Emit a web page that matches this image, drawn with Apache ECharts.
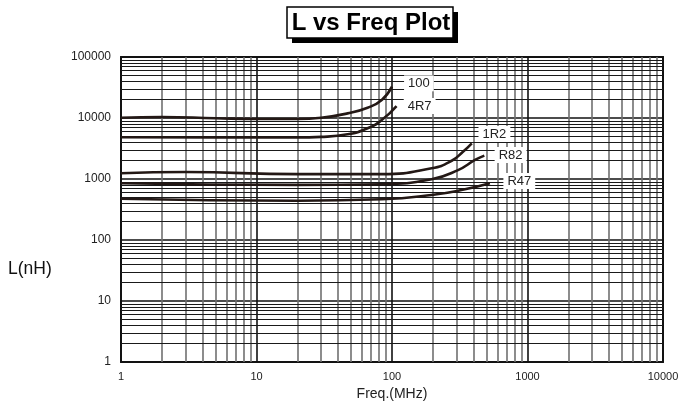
<!DOCTYPE html>
<html>
<head>
<meta charset="utf-8">
<script src="https://cdn.jsdelivr.net/npm/echarts@6/dist/echarts.min.js"></script>
<style>
html,body{margin:0;padding:0;background:#fff;}
#c{width:680px;height:401px;}
</style>
</head>
<body>
<div id="c"></div>
<script>
// ---- data ----
var xTicks = [1, 10, 100, 1000, 10000];
var yTicks = [1, 10, 100, 1000, 10000, 100000];

var f100 = [1, 2, 5, 10, 20, 30, 47, 66, 84, 100];
var L100 = [10100, 10400, 9900, 9630, 9630, 10100, 11900, 14750, 19700, 32600];

var f4R7 = [1, 5, 20, 30, 47, 66, 84, 108];
var L4R7 = [4830, 4800, 4800, 4900, 5400, 6780, 9270, 15700];

var f1R2 = [1, 3, 20, 84, 196, 276, 334, 388];
var L1R2 = [1240, 1300, 1200, 1200, 1500, 1990, 2800, 3850];

var fR82 = [1, 20, 84, 196, 307, 410, 480];
var LR82 = [850, 800, 820, 990, 1400, 2050, 2420];

var fR47 = [1, 20, 84, 196, 346, 528];
var LR47 = [475, 440, 465, 547, 678, 850];

var curveNames = ['100', '4R7', '1R2', 'R82', 'R47'];
var curveF = [f100, f4R7, f1R2, fR82, fR47];
var curveL = [L100, L4R7, L1R2, LR82, LR47];
// label anchors (data units)
var labelF = [158, 160, 570, 750, 870];
var labelL = [37000, 15700, 5470, 2480, 930];

// ---- build ----
function zip(a, b) { return a.map(function (v, i) { return [v, b[i]]; }); }

var minorX = [], minorY = [];
for (var d = 1; d < 10000; d *= 10) for (var k = 2; k <= 9; k++) minorX.push(d * k);
for (var d2 = 1; d2 < 100000; d2 *= 10) for (var k2 = 2; k2 <= 9; k2++) minorY.push(d2 * k2);

var gridLines = [];
minorX.forEach(function (v) {
  gridLines.push({ xAxis: v, lineStyle: { color: '#707070', width: 1.6, type: 'solid' } });
});
minorY.forEach(function (v) {
  gridLines.push({ yAxis: v, lineStyle: { color: '#1a1a1a', width: 1.1, type: 'solid' } });
});

var series = [{
  type: 'line',
  data: [],
  silent: true,
  markLine: {
    silent: true,
    symbol: ['none', 'none'],
    label: { show: false },
    animation: false,
    data: gridLines
  },
  z: 1
}];

var font = 'Liberation Sans, Arial, sans-serif';

curveNames.forEach(function (n, i) {
  series.push({
    name: n,
    type: 'line',
    data: zip(curveF[i], curveL[i]),
    smooth: 0.5,
    showSymbol: false,
    symbol: 'none',
    lineStyle: { color: '#231815', width: 2.6 },
    z: 5,
    markPoint: {
      symbol: 'rect',
      symbolSize: 0,
      data: [{ coord: [labelF[i], labelL[i]], value: n }],
      label: {
        show: true,
        position: 'inside',
        formatter: n,
        color: '#222',
        fontSize: 13,
        fontFamily: font,
        backgroundColor: '#fff',
        padding: [2, 4, 1, 4]
      },
      animation: false
    }
  });
});

var chart = echarts.init(document.getElementById('c'), null, { renderer: 'canvas' });
chart.setOption({
  animation: false,
  backgroundColor: '#fff',
  grid: {
    left: 121, right: 17, top: 57, bottom: 39,
    outerBoundsMode: 'none',
    containLabel: false,
    show: true, borderColor: '#1a1a1a', borderWidth: 2, backgroundColor: 'transparent'
  },
  xAxis: {
    type: 'log',
    logBase: 10,
    min: xTicks[0],
    max: xTicks[xTicks.length - 1],
    name: 'Freq.(MHz)',
    nameLocation: 'middle',
    nameGap: 22,
    nameTextStyle: { fontFamily: font, fontSize: 14, color: '#222' },
    axisLine: { show: false },
    axisTick: { show: false },
    axisLabel: { fontFamily: font, fontSize: 11, color: '#222', margin: 9,
      formatter: function (v) { return String(v); } },
    splitLine: { show: true, lineStyle: { color: '#111', width: 1.6 } }
  },
  yAxis: {
    type: 'log',
    logBase: 10,
    min: yTicks[0],
    max: yTicks[yTicks.length - 1],
    axisLine: { show: false },
    axisTick: { show: false },
    axisLabel: { fontFamily: font, fontSize: 12, color: '#222', margin: 10,
      formatter: function (v) { return String(v); } },
    splitLine: { show: true, lineStyle: { color: '#111', width: 1.6 } }
  },
  graphic: [
    { type: 'rect', shape: { x: 292, y: 12, width: 166, height: 31 }, style: { fill: '#000' }, z: 10 },
    { type: 'rect', shape: { x: 287, y: 7, width: 166, height: 31 }, style: { fill: '#fff', stroke: '#000', lineWidth: 1.5 }, z: 11 },
    { type: 'text', x: 371, y: 23, z: 12,
      style: { text: 'L vs Freq Plot', fontFamily: font, fontWeight: 'bold', fontSize: 24,
        fill: '#000', align: 'center', verticalAlign: 'middle' } },
    { type: 'text', left: 8, top: 260,
      style: { text: 'L(nH)', fontFamily: font, fontSize: 17.5, fill: '#111' } }
  ],
  series: series
});
</script>
</body>
</html>
